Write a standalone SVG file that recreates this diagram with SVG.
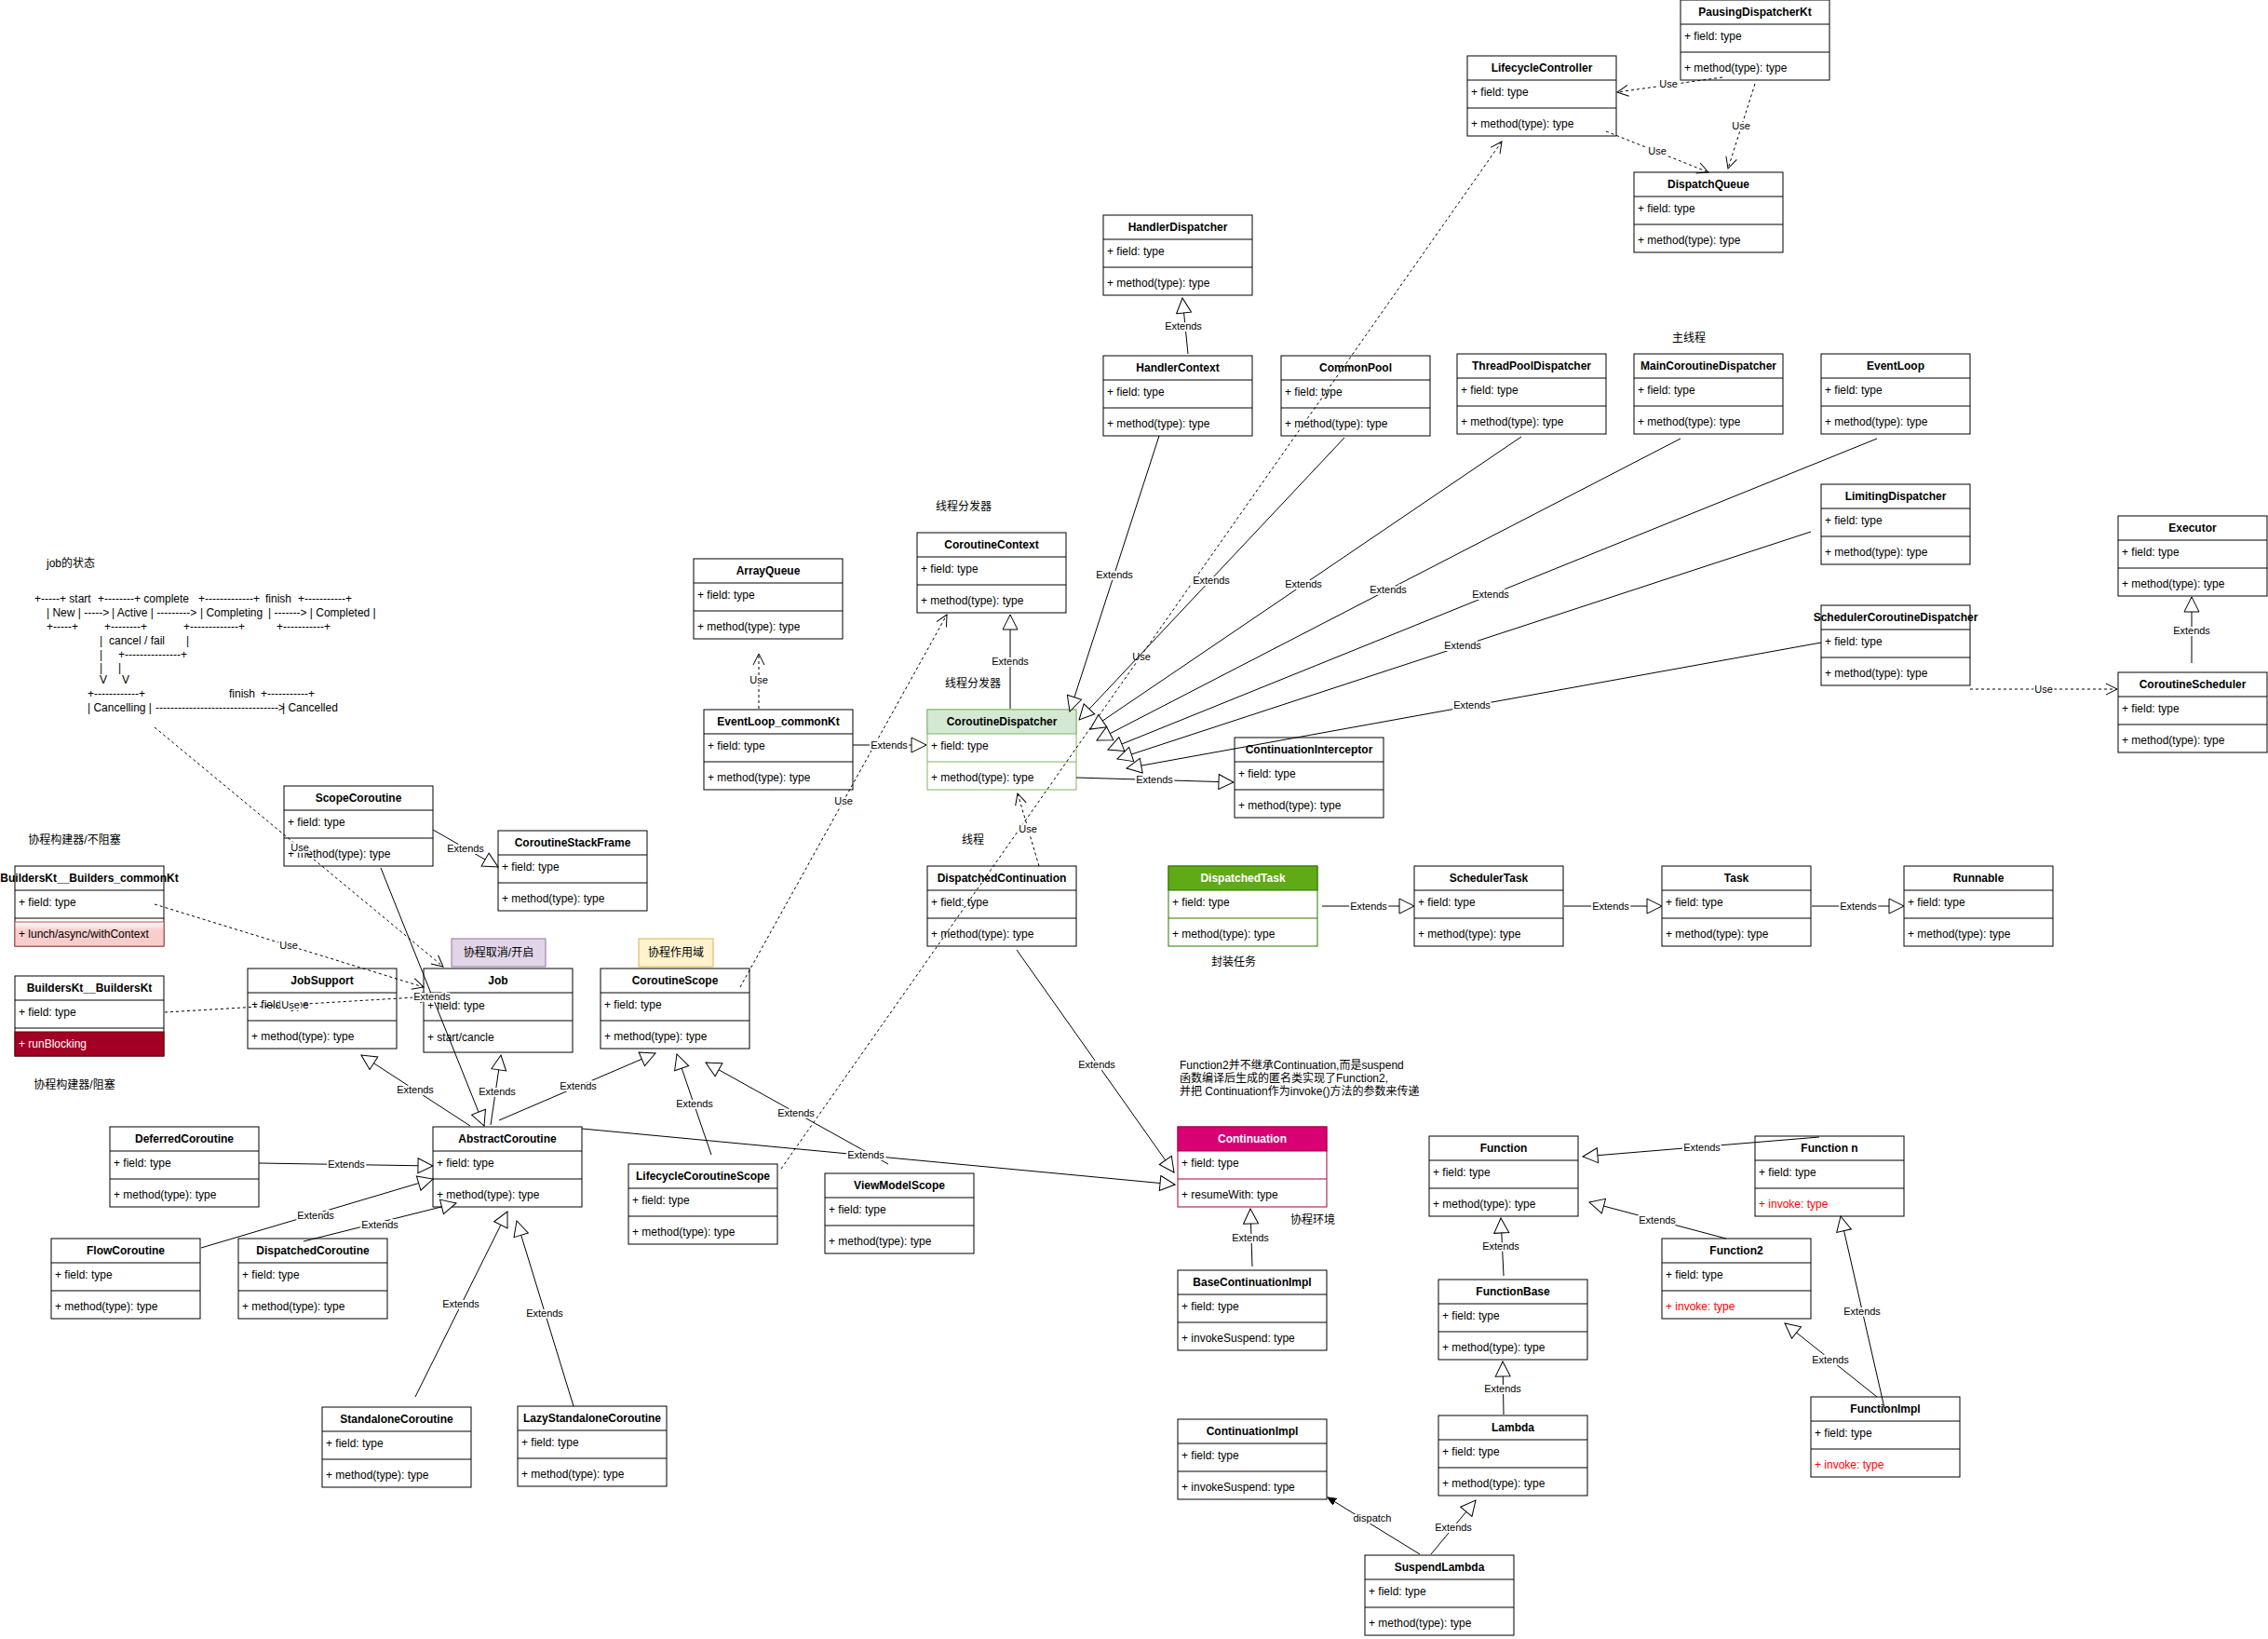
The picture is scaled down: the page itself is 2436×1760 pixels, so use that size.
<svg xmlns="http://www.w3.org/2000/svg" width="2436" height="1760" viewBox="0 0 2436 1760">
<style>
.box{fill:#fff;stroke:#000;stroke-width:1}
.sep{stroke:#000;stroke-width:1;fill:none}
.h{font-family:"Liberation Sans",Arial,sans-serif;font-size:12px;font-weight:bold;text-anchor:middle;fill:#000}
.m{font-family:"Liberation Sans",Arial,sans-serif;font-size:12px;fill:#000}
.w{fill:#fff}
.red{fill:#ff0000}
.cn{font-family:"Liberation Sans","Noto Sans CJK SC",sans-serif;font-size:12px;fill:#000}
.cnc{font-family:"Liberation Sans","Noto Sans CJK SC",sans-serif;font-size:12px;fill:#000;text-anchor:middle}
.lb{font-family:"Liberation Sans",Arial,sans-serif;font-size:11px;text-anchor:middle;fill:#000;paint-order:stroke;stroke:#fff;stroke-width:4px;stroke-linejoin:round}
.ext{stroke:#000;fill:none;stroke-width:1;marker-end:url(#tri)}
.gray{stroke:#808080;stroke-width:2}
.use{stroke:#000;fill:none;stroke-width:1;stroke-dasharray:3 3;marker-end:url(#open)}
.dsp{stroke:#000;fill:none;stroke-width:1;marker-end:url(#fill)}
</style>
<defs>
<marker id="tri" markerUnits="userSpaceOnUse" markerWidth="18" markerHeight="18" refX="16" refY="8" orient="auto" viewBox="-1 -1 18 18">
<path d="M0,0 L16,8 L0,16 Z" fill="#fff" stroke="#000" stroke-width="1" stroke-dasharray="none"/>
</marker>
<marker id="open" markerUnits="userSpaceOnUse" markerWidth="14" markerHeight="14" refX="12" refY="6" orient="auto" viewBox="-1 -1 14 14">
<path d="M0,0 L12,6 L0,12" fill="none" stroke="#000" stroke-width="1" stroke-dasharray="none"/>
</marker>
<marker id="fill" markerUnits="userSpaceOnUse" markerWidth="10" markerHeight="10" refX="9" refY="4" orient="auto" viewBox="0 0 10 10">
<path d="M0,0 L9,4 L0,8 Z" fill="#000" stroke="#000" stroke-width="1"/>
</marker>
<linearGradient id="pink" x1="0" y1="0" x2="0" y2="1">
<stop offset="0" stop-color="#ffffff"/>
<stop offset="0.35" stop-color="#f8cecc"/>
<stop offset="1" stop-color="#f8cecc"/>
</linearGradient>
</defs>
<rect width="2436" height="1760" fill="#fff"/>

<g id="nodes">
<g id="n-PausingDispatcherKt" transform="translate(1805,0)"><rect class="box" width="160" height="86"/><path class="sep" d="M0,26H160M0,56H160"/><text class="h" x="80" y="17">PausingDispatcherKt</text><text class="m" x="4" y="43">+ field: type</text><text class="m" x="4" y="77">+ method(type): type</text></g>
<g id="n-LifecycleController" transform="translate(1576,60)"><rect class="box" width="160" height="86"/><path class="sep" d="M0,26H160M0,56H160"/><text class="h" x="80" y="17">LifecycleController</text><text class="m" x="4" y="43">+ field: type</text><text class="m" x="4" y="77">+ method(type): type</text></g>
<g id="n-DispatchQueue" transform="translate(1755,185)"><rect class="box" width="160" height="86"/><path class="sep" d="M0,26H160M0,56H160"/><text class="h" x="80" y="17">DispatchQueue</text><text class="m" x="4" y="43">+ field: type</text><text class="m" x="4" y="77">+ method(type): type</text></g>
<g id="n-HandlerDispatcher" transform="translate(1185,231)"><rect class="box" width="160" height="86"/><path class="sep" d="M0,26H160M0,56H160"/><text class="h" x="80" y="17">HandlerDispatcher</text><text class="m" x="4" y="43">+ field: type</text><text class="m" x="4" y="77">+ method(type): type</text></g>
<g id="n-HandlerContext" transform="translate(1185,382)"><rect class="box" width="160" height="86"/><path class="sep" d="M0,26H160M0,56H160"/><text class="h" x="80" y="17">HandlerContext</text><text class="m" x="4" y="43">+ field: type</text><text class="m" x="4" y="77">+ method(type): type</text></g>
<g id="n-CommonPool" transform="translate(1376,382)"><rect class="box" width="160" height="86"/><path class="sep" d="M0,26H160M0,56H160"/><text class="h" x="80" y="17">CommonPool</text><text class="m" x="4" y="43">+ field: type</text><text class="m" x="4" y="77">+ method(type): type</text></g>
<g id="n-ThreadPoolDispatcher" transform="translate(1565,380)"><rect class="box" width="160" height="86"/><path class="sep" d="M0,26H160M0,56H160"/><text class="h" x="80" y="17">ThreadPoolDispatcher</text><text class="m" x="4" y="43">+ field: type</text><text class="m" x="4" y="77">+ method(type): type</text></g>
<g id="n-MainCoroutineDispatcher" transform="translate(1755,380)"><rect class="box" width="160" height="86"/><path class="sep" d="M0,26H160M0,56H160"/><text class="h" x="80" y="17">MainCoroutineDispatcher</text><text class="m" x="4" y="43">+ field: type</text><text class="m" x="4" y="77">+ method(type): type</text></g>
<g id="n-EventLoop" transform="translate(1956,380)"><rect class="box" width="160" height="86"/><path class="sep" d="M0,26H160M0,56H160"/><text class="h" x="80" y="17">EventLoop</text><text class="m" x="4" y="43">+ field: type</text><text class="m" x="4" y="77">+ method(type): type</text></g>
<g id="n-LimitingDispatcher" transform="translate(1956,520)"><rect class="box" width="160" height="86"/><path class="sep" d="M0,26H160M0,56H160"/><text class="h" x="80" y="17">LimitingDispatcher</text><text class="m" x="4" y="43">+ field: type</text><text class="m" x="4" y="77">+ method(type): type</text></g>
<g id="n-SchedulerCoroutineDispatcher" transform="translate(1956,650)"><rect class="box" width="160" height="86"/><path class="sep" d="M0,26H160M0,56H160"/><text class="h" x="80" y="17">SchedulerCoroutineDispatcher</text><text class="m" x="4" y="43">+ field: type</text><text class="m" x="4" y="77">+ method(type): type</text></g>
<g id="n-Executor" transform="translate(2275,554)"><rect class="box" width="160" height="86"/><path class="sep" d="M0,26H160M0,56H160"/><text class="h" x="80" y="17">Executor</text><text class="m" x="4" y="43">+ field: type</text><text class="m" x="4" y="77">+ method(type): type</text></g>
<g id="n-CoroutineScheduler" transform="translate(2275,722)"><rect class="box" width="160" height="86"/><path class="sep" d="M0,26H160M0,56H160"/><text class="h" x="80" y="17">CoroutineScheduler</text><text class="m" x="4" y="43">+ field: type</text><text class="m" x="4" y="77">+ method(type): type</text></g>
<g id="n-ArrayQueue" transform="translate(745,600)"><rect class="box" width="160" height="86"/><path class="sep" d="M0,26H160M0,56H160"/><text class="h" x="80" y="17">ArrayQueue</text><text class="m" x="4" y="43">+ field: type</text><text class="m" x="4" y="77">+ method(type): type</text></g>
<g id="n-CoroutineContext" transform="translate(985,572)"><rect class="box" width="160" height="86"/><path class="sep" d="M0,26H160M0,56H160"/><text class="h" x="80" y="17">CoroutineContext</text><text class="m" x="4" y="43">+ field: type</text><text class="m" x="4" y="77">+ method(type): type</text></g>
<g id="n-EventLoop_commonKt" transform="translate(756,762)"><rect class="box" width="160" height="86"/><path class="sep" d="M0,26H160M0,56H160"/><text class="h" x="80" y="17">EventLoop_commonKt</text><text class="m" x="4" y="43">+ field: type</text><text class="m" x="4" y="77">+ method(type): type</text></g>
<g id="n-CoroutineDispatcher" transform="translate(996,762)"><rect width="160" height="86" fill="#fff" stroke="#82b366"/><rect width="160" height="26" fill="#d5e8d4" stroke="#82b366"/><path d="M0,56H160" stroke="#82b366"/><text class="h" x="80" y="17">CoroutineDispatcher</text><text class="m" x="4" y="43">+ field: type</text><text class="m" x="4" y="77">+ method(type): type</text></g>
<g id="n-ContinuationInterceptor" transform="translate(1326,792)"><rect class="box" width="160" height="86"/><path class="sep" d="M0,26H160M0,56H160"/><text class="h" x="80" y="17">ContinuationInterceptor</text><text class="m" x="4" y="43">+ field: type</text><text class="m" x="4" y="77">+ method(type): type</text></g>
<g id="n-DispatchedContinuation" transform="translate(996,930)"><rect class="box" width="160" height="86"/><path class="sep" d="M0,26H160M0,56H160"/><text class="h" x="80" y="17">DispatchedContinuation</text><text class="m" x="4" y="43">+ field: type</text><text class="m" x="4" y="77">+ method(type): type</text></g>
<g id="n-DispatchedTask" transform="translate(1255,930)"><rect width="160" height="86" fill="#fff" stroke="#2D7600"/><rect width="160" height="26" fill="#60a917" stroke="#2D7600"/><path d="M0,56H160" stroke="#2D7600"/><text class="h w" x="80" y="17">DispatchedTask</text><text class="m" x="4" y="43">+ field: type</text><text class="m" x="4" y="77">+ method(type): type</text></g>
<g id="n-SchedulerTask" transform="translate(1519,930)"><rect class="box" width="160" height="86"/><path class="sep" d="M0,26H160M0,56H160"/><text class="h" x="80" y="17">SchedulerTask</text><text class="m" x="4" y="43">+ field: type</text><text class="m" x="4" y="77">+ method(type): type</text></g>
<g id="n-Task" transform="translate(1785,930)"><rect class="box" width="160" height="86"/><path class="sep" d="M0,26H160M0,56H160"/><text class="h" x="80" y="17">Task</text><text class="m" x="4" y="43">+ field: type</text><text class="m" x="4" y="77">+ method(type): type</text></g>
<g id="n-Runnable" transform="translate(2045,930)"><rect class="box" width="160" height="86"/><path class="sep" d="M0,26H160M0,56H160"/><text class="h" x="80" y="17">Runnable</text><text class="m" x="4" y="43">+ field: type</text><text class="m" x="4" y="77">+ method(type): type</text></g>
<g id="n-ScopeCoroutine" transform="translate(305,844)"><rect class="box" width="160" height="86"/><path class="sep" d="M0,26H160M0,56H160"/><text class="h" x="80" y="17">ScopeCoroutine</text><text class="m" x="4" y="43">+ field: type</text><text class="m" x="4" y="77">+ method(type): type</text></g>
<g id="n-CoroutineStackFrame" transform="translate(535,892)"><rect class="box" width="160" height="86"/><path class="sep" d="M0,26H160M0,56H160"/><text class="h" x="80" y="17">CoroutineStackFrame</text><text class="m" x="4" y="43">+ field: type</text><text class="m" x="4" y="77">+ method(type): type</text></g>
<g id="n-BuildersKt__Builders_commonKt" transform="translate(16,930)"><rect class="box" width="160" height="86"/><path class="sep" d="M0,26H160M0,56H160"/><rect y="60" width="160" height="26" fill="url(#pink)" stroke="#b85450"/><text class="h" x="80" y="17">BuildersKt__Builders_commonKt</text><text class="m" x="4" y="43">+ field: type</text><text class="m" x="4" y="77">+ lunch/async/withContext</text></g>
<g id="n-BuildersKt__BuildersKt" transform="translate(16,1048)"><rect class="box" width="160" height="86"/><path class="sep" d="M0,26H160M0,56H160"/><rect y="60" width="160" height="26" fill="#a20025" stroke="#6F0000"/><text class="h" x="80" y="17">BuildersKt__BuildersKt</text><text class="m" x="4" y="43">+ field: type</text><text class="m w" x="4" y="77">+ runBlocking</text></g>
<g id="n-JobSupport" transform="translate(266,1040)"><rect class="box" width="160" height="86"/><path class="sep" d="M0,26H160M0,56H160"/><text class="h" x="80" y="17">JobSupport</text><text class="m" x="4" y="43">+ field: type</text><text class="m" x="4" y="77">+ method(type): type</text></g>
<g id="n-Job" transform="translate(455,1040)"><rect class="box" width="160" height="90"/><path class="sep" d="M0,26H160M0,56H160"/><text class="h" x="80" y="17">Job</text><text class="m" x="4" y="44">+ field: type</text><text class="m" x="4" y="78">+ start/cancle</text></g>
<g id="n-CoroutineScope" transform="translate(645,1040)"><rect class="box" width="160" height="86"/><path class="sep" d="M0,26H160M0,56H160"/><text class="h" x="80" y="17">CoroutineScope</text><text class="m" x="4" y="43">+ field: type</text><text class="m" x="4" y="77">+ method(type): type</text></g>
<g id="n-note-cancel" transform="translate(485,1008)"><rect width="101" height="30" fill="#e1d5e7" stroke="#9673a6"/><text class="cnc" x="50.5" y="19">协程取消/开启</text></g>
<g id="n-note-scope" transform="translate(686,1008)"><rect width="80" height="30" fill="#fff2cc" stroke="#d6b656"/><text class="cnc" x="40" y="19">协程作用域</text></g>
<g id="n-AbstractCoroutine" transform="translate(465,1210)"><rect class="box" width="160" height="86"/><path class="sep" d="M0,26H160M0,56H160"/><text class="h" x="80" y="17">AbstractCoroutine</text><text class="m" x="4" y="43">+ field: type</text><text class="m" x="4" y="77">+ method(type): type</text></g>
<g id="n-DeferredCoroutine" transform="translate(118,1210)"><rect class="box" width="160" height="86"/><path class="sep" d="M0,26H160M0,56H160"/><text class="h" x="80" y="17">DeferredCoroutine</text><text class="m" x="4" y="43">+ field: type</text><text class="m" x="4" y="77">+ method(type): type</text></g>
<g id="n-FlowCoroutine" transform="translate(55,1330)"><rect class="box" width="160" height="86"/><path class="sep" d="M0,26H160M0,56H160"/><text class="h" x="80" y="17">FlowCoroutine</text><text class="m" x="4" y="43">+ field: type</text><text class="m" x="4" y="77">+ method(type): type</text></g>
<g id="n-DispatchedCoroutine" transform="translate(256,1330)"><rect class="box" width="160" height="86"/><path class="sep" d="M0,26H160M0,56H160"/><text class="h" x="80" y="17">DispatchedCoroutine</text><text class="m" x="4" y="43">+ field: type</text><text class="m" x="4" y="77">+ method(type): type</text></g>
<g id="n-LifecycleCoroutineScope" transform="translate(675,1250)"><rect class="box" width="160" height="86"/><path class="sep" d="M0,26H160M0,56H160"/><text class="h" x="80" y="17">LifecycleCoroutineScope</text><text class="m" x="4" y="43">+ field: type</text><text class="m" x="4" y="77">+ method(type): type</text></g>
<g id="n-ViewModelScope" transform="translate(886,1260)"><rect class="box" width="160" height="86"/><path class="sep" d="M0,26H160M0,56H160"/><text class="h" x="80" y="17">ViewModelScope</text><text class="m" x="4" y="43">+ field: type</text><text class="m" x="4" y="77">+ method(type): type</text></g>
<g id="n-StandaloneCoroutine" transform="translate(346,1511)"><rect class="box" width="160" height="86"/><path class="sep" d="M0,26H160M0,56H160"/><text class="h" x="80" y="17">StandaloneCoroutine</text><text class="m" x="4" y="43">+ field: type</text><text class="m" x="4" y="77">+ method(type): type</text></g>
<g id="n-LazyStandaloneCoroutine" transform="translate(556,1510)"><rect class="box" width="160" height="86"/><path class="sep" d="M0,26H160M0,56H160"/><text class="h" x="80" y="17">LazyStandaloneCoroutine</text><text class="m" x="4" y="43">+ field: type</text><text class="m" x="4" y="77">+ method(type): type</text></g>
<g id="n-Continuation" transform="translate(1265,1210)"><rect width="160" height="86" fill="#fff" stroke="#A50040"/><rect width="160" height="26" fill="#d80073" stroke="#A50040"/><path d="M0,56H160" stroke="#A50040"/><text class="h w" x="80" y="17">Continuation</text><text class="m" x="4" y="43">+ field: type</text><text class="m" x="4" y="77">+ resumeWith: type</text></g>
<g id="n-BaseContinuationImpl" transform="translate(1265,1364)"><rect class="box" width="160" height="86"/><path class="sep" d="M0,26H160M0,56H160"/><text class="h" x="80" y="17">BaseContinuationImpl</text><text class="m" x="4" y="43">+ field: type</text><text class="m" x="4" y="77">+ invokeSuspend: type</text></g>
<g id="n-ContinuationImpl" transform="translate(1265,1524)"><rect class="box" width="160" height="86"/><path class="sep" d="M0,26H160M0,56H160"/><text class="h" x="80" y="17">ContinuationImpl</text><text class="m" x="4" y="43">+ field: type</text><text class="m" x="4" y="77">+ invokeSuspend: type</text></g>
<g id="n-Function" transform="translate(1535,1220)"><rect class="box" width="160" height="86"/><path class="sep" d="M0,26H160M0,56H160"/><text class="h" x="80" y="17">Function</text><text class="m" x="4" y="43">+ field: type</text><text class="m" x="4" y="77">+ method(type): type</text></g>
<g id="n-Function-n" transform="translate(1885,1220)"><rect class="box" width="160" height="86"/><path class="sep" d="M0,26H160M0,56H160"/><text class="h" x="80" y="17">Function n</text><text class="m" x="4" y="43">+ field: type</text><text class="m red" x="4" y="77">+ invoke: type</text></g>
<g id="n-Function2" transform="translate(1785,1330)"><rect class="box" width="160" height="86"/><path class="sep" d="M0,26H160M0,56H160"/><text class="h" x="80" y="17">Function2</text><text class="m" x="4" y="43">+ field: type</text><text class="m red" x="4" y="77">+ invoke: type</text></g>
<g id="n-FunctionBase" transform="translate(1545,1374)"><rect class="box" width="160" height="86"/><path class="sep" d="M0,26H160M0,56H160"/><text class="h" x="80" y="17">FunctionBase</text><text class="m" x="4" y="43">+ field: type</text><text class="m" x="4" y="77">+ method(type): type</text></g>
<g id="n-Lambda" transform="translate(1545,1520)"><rect class="box" width="160" height="86"/><path class="sep" d="M0,26H160M0,56H160"/><text class="h" x="80" y="17">Lambda</text><text class="m" x="4" y="43">+ field: type</text><text class="m" x="4" y="77">+ method(type): type</text></g>
<g id="n-FunctionImpl" transform="translate(1945,1500)"><rect class="box" width="160" height="86"/><path class="sep" d="M0,26H160M0,56H160"/><text class="h" x="80" y="17">FunctionImpl</text><text class="m" x="4" y="43">+ field: type</text><text class="m red" x="4" y="77">+ invoke: type</text></g>
<g id="n-SuspendLambda" transform="translate(1466,1670)"><rect class="box" width="160" height="86"/><path class="sep" d="M0,26H160M0,56H160"/><text class="h" x="80" y="17">SuspendLambda</text><text class="m" x="4" y="43">+ field: type</text><text class="m" x="4" y="77">+ method(type): type</text></g>
</g>

<g id="annotations">
<text class="cnc" x="1035" y="548">线程分发器</text>
<text class="cnc" x="1045" y="738">线程分发器</text>
<text class="cnc" x="1045" y="906">线程</text>
<text class="cnc" x="1814" y="367">主线程</text>
<text class="cnc" x="1325" y="1037">封装任务</text>
<text class="cnc" x="1410" y="1314">协程环境</text>
<text class="cnc" x="80" y="906">协程构建器/不阻塞</text>
<text class="cnc" x="80" y="1169">协程构建器/阻塞</text>
<text class="cn" x="1267" y="1148">Function2并不继承Continuation,而是suspend</text>
<text class="cn" x="1267" y="1162">函数编译后生成的匿名类实现了Function2,</text>
<text class="cn" x="1267" y="1176">并把 Continuation作为invoke()方法的参数来传递</text>
<g id="job-states">
<text class="cn" x="50" y="609">job的状态</text>
<text class="m" y="647"><tspan x="37">+-----+ start</tspan><tspan x="105">+--------+ complete</tspan><tspan x="213">+-------------+</tspan><tspan x="285">finish</tspan><tspan x="320">+-----------+</tspan></text>
<text class="m" y="662"><tspan x="50">| New | -----&gt;</tspan><tspan x="120">| Active | ---------&gt;</tspan><tspan x="215">| Completing</tspan><tspan x="288">| -------&gt; | Completed |</tspan></text>
<text class="m" y="677"><tspan x="50">+-----+</tspan><tspan x="112">+--------+</tspan><tspan x="197">+-------------+</tspan><tspan x="297">+-----------+</tspan></text>
<text class="m" y="692"><tspan x="107">|</tspan><tspan x="117">cancel / fail</tspan><tspan x="200">|</tspan></text>
<text class="m" y="707"><tspan x="107">|</tspan><tspan x="127">+---------------+</tspan></text>
<text class="m" y="721"><tspan x="107">|</tspan><tspan x="127">|</tspan></text>
<text class="m" y="734"><tspan x="107">V</tspan><tspan x="131">V</tspan></text>
<text class="m" y="749"><tspan x="94">+------------+</tspan><tspan x="246">finish</tspan><tspan x="280">+-----------+</tspan></text>
<text class="m" y="764"><tspan x="94">| Cancelling |</tspan><tspan x="167">---------------------------------&gt;</tspan><tspan x="303">| Cancelled</tspan></text>
</g>
</g>

<g id="connectors">
<path class="use" d="M1850,83 L1737,99"/><text class="lb" x="1792" y="94">Use</text>
<path class="use" d="M1885,90 L1856,181"/><text class="lb" x="1870" y="139">Use</text>
<path class="use" d="M1725,141 L1835,185"/><text class="lb" x="1780" y="166">Use</text>
<path class="use" d="M839,1255 L1613,152"/><text class="lb" x="1226" y="709">Use</text>
<path class="use" d="M795,1060 L1017,660"/><text class="lb" x="906" y="864">Use</text>
<path class="use" d="M1116,930 L1093,852"/><text class="lb" x="1104" y="894">Use</text>
<path class="use" d="M815,761 L815,702"/><text class="lb" x="815" y="734">Use</text>
<path class="use" d="M166,781 L476,1038"/><text class="lb" x="322" y="914">Use</text>
<path class="use" d="M166,971 L455,1060"/><text class="lb" x="310" y="1019">Use</text>
<path class="use" d="M177,1087 L463,1070"/><text class="lb" x="312" y="1083">Use</text>
<path class="use" d="M2116,740 L2274,740"/><text class="lb" x="2195" y="744">Use</text>

<path class="ext" d="M1276,380 L1270,320"/><text class="lb" x="1271" y="354">Extends</text>
<path class="ext" d="M1245,468 L1149,764"/><text class="lb" x="1197" y="621">Extends</text>
<path class="ext" d="M1444,470 L1159,773"/><text class="lb" x="1301" y="627">Extends</text>
<path class="ext" d="M1634,469 L1171,783"/><text class="lb" x="1400" y="631">Extends</text>
<path class="ext" d="M1805,471 L1178,795"/><text class="lb" x="1491" y="637">Extends</text>
<path class="ext" d="M2016,471 L1190,805"/><text class="lb" x="1601" y="642">Extends</text>
<path class="ext" d="M1945,571 L1200,815"/><text class="lb" x="1571" y="697">Extends</text>
<path class="ext" d="M1956,690 L1210,825"/><text class="lb" x="1581" y="761">Extends</text>
<path class="ext" d="M1085,761 L1085,660"/><text class="lb" x="1085" y="714">Extends</text>
<path class="ext" d="M916,800 L995,800"/><text class="lb" x="955" y="804">Extends</text>
<path class="ext" d="M1156,835 L1325,840"/><text class="lb" x="1240" y="841">Extends</text>
<path class="ext" d="M2354,712 L2354,641"/><text class="lb" x="2354" y="681">Extends</text>
<path class="ext gray" d="M1420,973 L1519,973"/><text class="lb" x="1470" y="977">Extends</text>
<path class="ext gray" d="M1680,973 L1785,973"/><text class="lb" x="1730" y="977">Extends</text>
<path class="ext gray" d="M1946,973 L2045,973"/><text class="lb" x="1996" y="977">Extends</text>
<path class="ext" d="M465,891 L535,931"/><text class="lb" x="500" y="915">Extends</text>
<path class="ext" d="M409,932 L520,1209"/><text class="lb" x="464" y="1074">Extends</text>
<path class="ext" d="M505,1209 L388,1133"/><text class="lb" x="446" y="1174">Extends</text>
<path class="ext" d="M527,1208 L538,1133"/><text class="lb" x="534" y="1176">Extends</text>
<path class="ext" d="M536,1203 L704,1131"/><text class="lb" x="621" y="1170">Extends</text>
<path class="ext" d="M764,1240 L727,1132"/><text class="lb" x="746" y="1189">Extends</text>
<path class="ext" d="M954,1250 L758,1141"/><text class="lb" x="855" y="1199">Extends</text>
<path class="ext" d="M625,1212 L1262,1272"/><text class="lb" x="930" y="1244">Extends</text>
<path class="ext" d="M1092,1020 L1261,1259"/><text class="lb" x="1178" y="1147">Extends</text>
<path class="ext" d="M278,1249 L465,1252"/><text class="lb" x="372" y="1254">Extends</text>
<path class="ext" d="M216,1340 L465,1266"/><text class="lb" x="339" y="1309">Extends</text>
<path class="ext" d="M326,1333 L490,1292"/><text class="lb" x="408" y="1319">Extends</text>
<path class="ext" d="M446,1500 L545,1301"/><text class="lb" x="495" y="1404">Extends</text>
<path class="ext" d="M616,1510 L555,1311"/><text class="lb" x="585" y="1414">Extends</text>
<path class="ext" d="M1345,1360 L1343,1298"/><text class="lb" x="1343" y="1333">Extends</text>
<path class="ext" d="M1615,1370 L1612,1308"/><text class="lb" x="1612" y="1342">Extends</text>
<path class="ext" d="M1615,1519 L1614,1462"/><text class="lb" x="1614" y="1495">Extends</text>
<path class="ext" d="M1537,1669 L1585,1611"/><text class="lb" x="1561" y="1644">Extends</text>
<path class="ext" d="M1954,1221 L1700,1242"/><text class="lb" x="1828" y="1236">Extends</text>
<path class="ext" d="M1854,1330 L1707,1291"/><text class="lb" x="1780" y="1314">Extends</text>
<path class="ext" d="M2016,1500 L1917,1421"/><text class="lb" x="1966" y="1464">Extends</text>
<path class="ext" d="M2024,1512 L1977,1306"/><text class="lb" x="2000" y="1412">Extends</text>
<path class="dsp" d="M1525,1669 L1426,1608"/><text class="lb" x="1474" y="1634">dispatch</text>
</g>
</svg>
